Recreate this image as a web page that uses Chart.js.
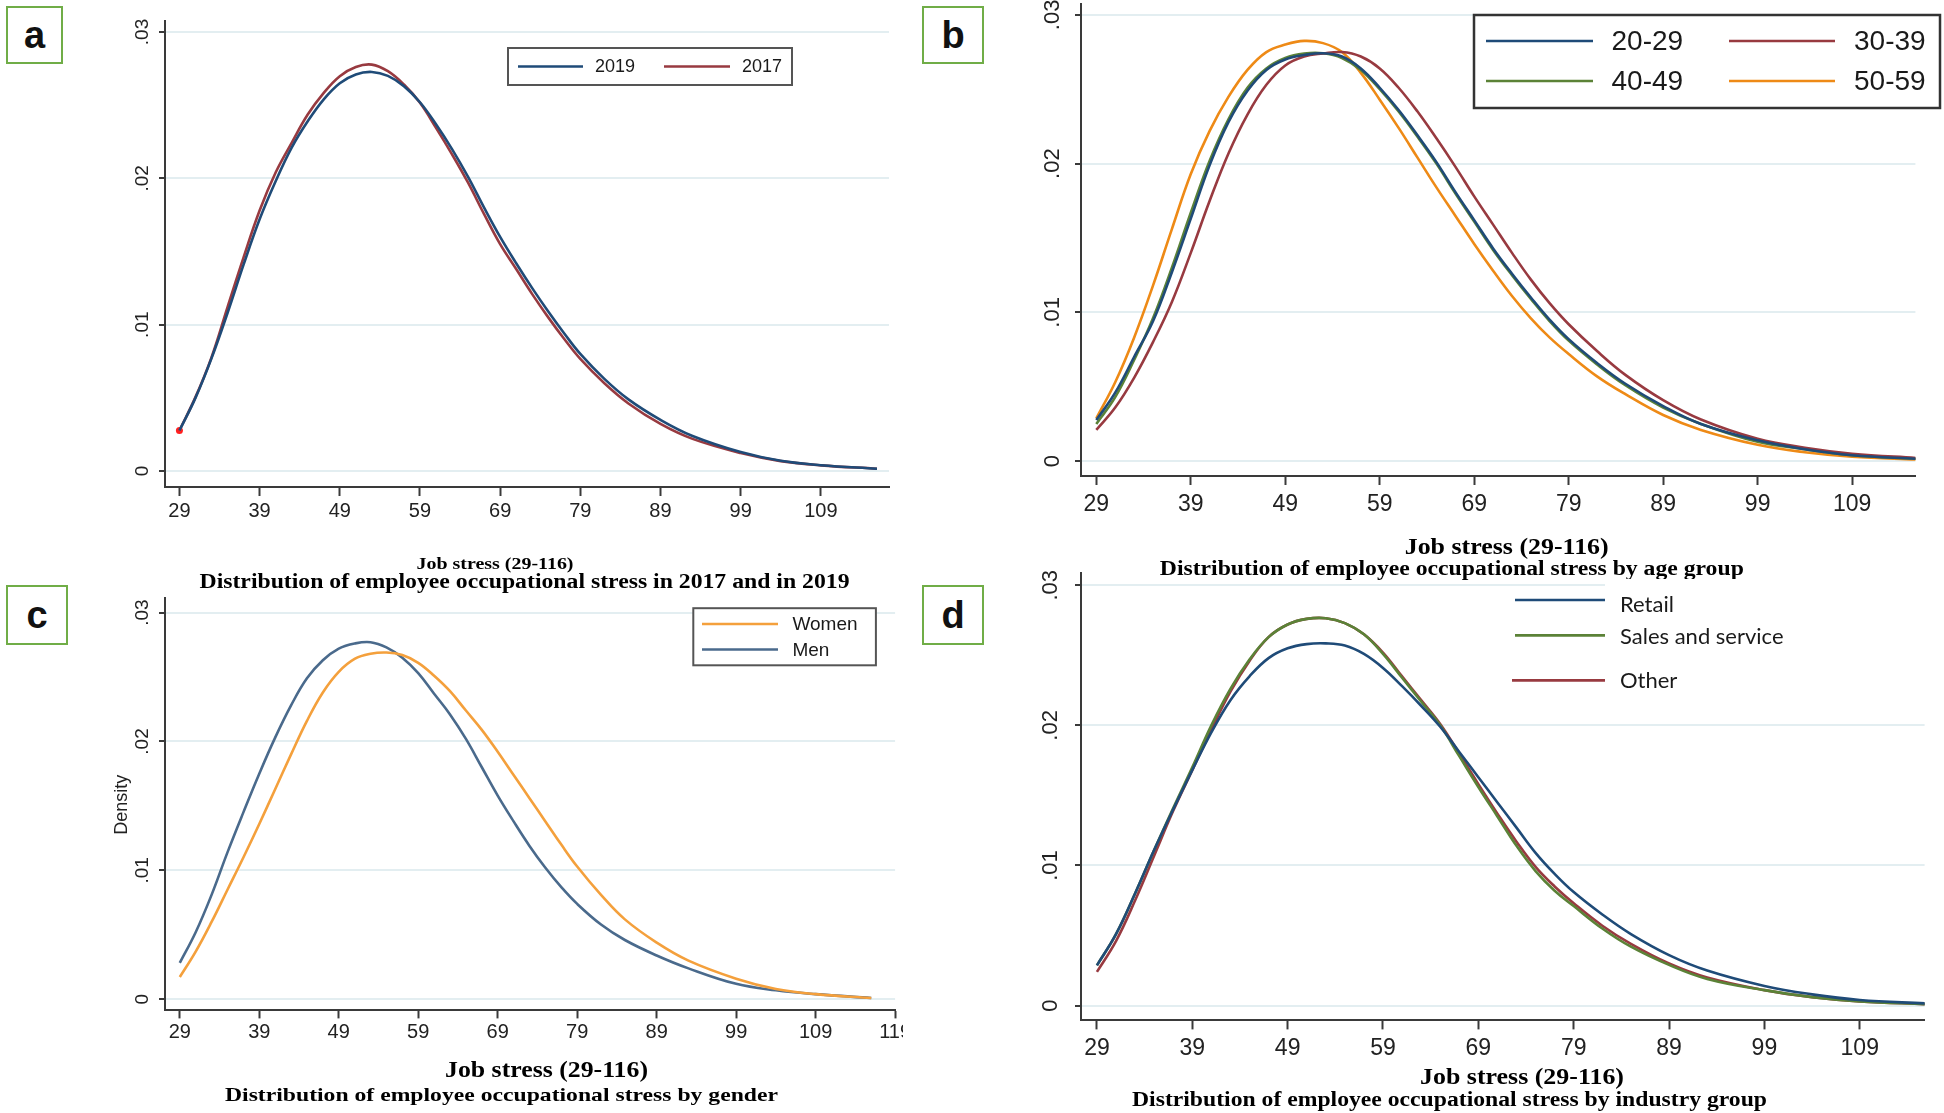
<!DOCTYPE html>
<html>
<head>
<meta charset="utf-8">
<title>Job stress density plots</title>
<script src="https://cdn.jsdelivr.net/npm/chart.js@4.4.0/dist/chart.umd.min.js"></script>
<style>
  html, body { margin: 0; padding: 0; background: #fff; }
  #page { position: relative; width: 1944px; height: 1113px; overflow: hidden; background: #fff; }
  .wrap { position: absolute; overflow: hidden; }
  .tag {
    position: absolute; box-sizing: border-box; border: 2px solid #70ad47; background: #fff;
    font: bold 38px "Liberation Sans", Arial, sans-serif; color: #111;
    display: flex; align-items: center; justify-content: center; line-height: 1;
  }
</style>
</head>
<body>
<div id="page">
  <div class="wrap" style="left:70px;top:0;width:840px;height:600px"><canvas id="chartA" width="840" height="600"></canvas></div>
  <div class="wrap" style="left:990px;top:0;width:954px;height:600px"><canvas id="chartB" width="954" height="600"></canvas></div>
  <div class="wrap" style="left:70px;top:590px;width:833px;height:523px"><canvas id="chartC" width="870" height="523"></canvas></div>
  <div class="wrap" style="left:990px;top:565px;width:954px;height:548px"><canvas id="chartD" width="954" height="548"></canvas></div>
  <div class="tag" style="left:6px;top:6px;width:57px;height:58px">a</div>
  <div class="tag" style="left:922px;top:6px;width:62px;height:58px">b</div>
  <div class="tag" style="left:6px;top:585px;width:62px;height:60px">c</div>
  <div class="tag" style="left:922px;top:585px;width:62px;height:60px">d</div>
</div>
<script>
// Job stress score (x) at which the density curves were read
const stressX = [29, 31, 33, 35, 37, 39, 41, 43, 45, 47, 49, 51, 53, 55, 57, 59, 61, 63, 65, 67,
                 69, 71, 73, 75, 77, 79, 82, 85, 89, 93, 99, 104, 109, 116];

// a) by year
const year2019 = [.00277, .0050, .0077, .0108, .0141, .0172, .0198, .0221, .0239, .0254, .0265, .0271, .02727, .0270, .0263, .0252, .0237,
                  .0220, .0201, .0180, .0160, .0142, .0125, .0109, .0094, .0080, .0063, .0049, .0035, .0024, .0013, .0007, .0004, .00016];
const year2017 = [.00277, .00505, .00777, .0112, .0146, .0178, .0204, .02243, .02436, .02584, .02698, .02761, .02777, .02732, .02641, .02516, .02345,
                  .02164, .0197, .01755, .0155, .0138, .01209, .0105, .00902, .00766, .00600, .00462, .00322, .0022, .00123, .00068, .00039, .00016];

// b) by age group
const age2029 = [.00276, .0046, .0070, .0094, .0127, .0163, .0199, .0228, .0249, .0263, .0270, .0273, .02742, .0272, .0264, .0251, .0236,
                 .0219, .0201, .0181, .0162, .0143, .0126, .0110, .0095, .0082, .0066, .0052, .0037, .0025, .0014, .0008, .0004, .00015];
const age3039 = [.0021, .0036, .0056, .0080, .0107, .0140, .0175, .0207, .0233, .0253, .0266, .0272, .0274, .0275, .0272, .0264, .0251,
                 .0235, .0217, .0198, .0178, .0159, .0140, .0122, .0106, .0092, .0074, .0058, .0041, .0028, .0015, .0009, .0005, .0002];
const age4049 = [.0025, .0043, .0068, .0096, .0130, .0167, .0202, .0230, .0251, .0264, .0271, .0274, .02742, .0271, .0263, .0250, .0235,
                 .0218, .0200, .0180, .0161, .0142, .0125, .0109, .0094, .0081, .0065, .0051, .0036, .0025, .0013, .0008, .0004, .00015];
const age5059 = [.00287, .0053, .0083, .0118, .0156, .0193, .0222, .0245, .0263, .0275, .0280, .02825, .0281, .0275, .0261, .0243, .0224,
                 .0204, .0184, .0165, .0146, .0128, .0111, .0096, .0083, .0072, .0057, .0045, .0031, .0021, .0011, .0006, .0003, .0001];

// c) by gender
const women = [.00173, .0037, .0060, .0085, .0110, .0136, .0163, .0190, .0216, .0238, .0254, .0264, .0268, .0269, .0267, .0261, .0251,
               .0239, .0224, .0209, .0192, .0174, .0156, .0138, .0120, .0103, .0081, .0062, .0044, .0030, .0016, .0008, .0004, .0001];
const men = [.00282, .0052, .0081, .0114, .0145, .0175, .0203, .0228, .0249, .0263, .0272, .0276, .0277, .0273, .0265, .0253, .0237,
             .0221, .0202, .0180, .0158, .0138, .0119, .0102, .0087, .0074, .0058, .0046, .0034, .0024, .0012, .0007, .0004, .0001];

// d) by industry group
const retail = [.00287, .0051, .0080, .0111, .0140, .0168, .0195, .0218, .0235, .0248, .0255, .0258, .02585, .0257, .0251, .0241, .0228,
                .0214, .0199, .0181, .0163, .0145, .0127, .0109, .0094, .0081, .0065, .0051, .0036, .0025, .0014, .0008, .0004, .00015];
const salesService = [.00287, .0051, .0080, .0111, .0141, .0170, .0200, .0226, .0247, .0263, .0272, .0276, .02765, .0273, .0265, .0251, .0234,
                      .0217, .0200, .0178, .0156, .0135, .0114, .0096, .0082, .0071, .0055, .0042, .0029, .0019, .0011, .0006, .0003, .0001];
const other = [.0024, .0046, .0075, .0107, .0139, .0168, .0197, .0224, .0246, .0263, .0272, .0276, .02765, .0273, .0265, .0252, .0235,
               .0218, .0201, .0180, .0158, .0137, .0117, .0099, .0085, .0073, .0057, .0044, .0030, .0020, .0011, .0006, .0003, .0001];

// tick labels
const xTicks = [29, 39, 49, 59, 69, 79, 89, 99, 109];
const xTicksC = [29, 39, 49, 59, 69, 79, 89, 99, 109, 119];
const yTicks = [0, 0.01, 0.02, 0.03];
const yTickLabels = ['0', '.01', '.02', '.03'];

const xTitle = 'Job stress (29-116)';

const NAVY = '#1f4b78', MAROON = '#983a40', GREEN = '#5b8237', ORANGE = '#ee8a16';
const SANS = '"Liberation Sans", Arial, sans-serif';
const SERIF = '"Liberation Serif", "Times New Roman", serif';

function series(label, values, color, extra) {
  return Object.assign({
    label,
    data: stressX.map((x, i) => ({ x, y: values[i] })),
    borderColor: color,
    backgroundColor: color,
    borderWidth: 2.6,
    pointRadius: 0,
    fill: false,
    tension: 0.4
  }, extra || {});
}

function drawFitted(ctx, text, cx, cy, font, width) {
  ctx.save();
  ctx.font = font;
  const w = ctx.measureText(text).width;
  ctx.translate(cx, cy);
  ctx.scale(width / w, 1);
  ctx.textAlign = 'center';
  ctx.textBaseline = 'middle';
  ctx.fillStyle = '#000';
  ctx.fillText(text, 0, 0);
  ctx.restore();
}

// draws the stata-like extras: rotated y labels, legend, axis title and caption
const panelText = {
  id: 'panelText',
  afterDraw(chart, args, o) {
    const ctx = chart.ctx;
    const ys = chart.scales.y;

    ctx.save();
    ctx.fillStyle = '#222';
    ctx.font = o.yFont + 'px ' + SANS;
    ctx.textAlign = 'center';
    ctx.textBaseline = 'middle';
    yTicks.forEach((v, i) => {
      ctx.save();
      ctx.translate(o.yLabelX, ys.getPixelForValue(v));
      ctx.rotate(-Math.PI / 2);
      ctx.fillText(yTickLabels[i], 0, 0);
      ctx.restore();
    });
    if (o.density) {
      ctx.save();
      ctx.font = o.density.size + 'px ' + SANS;
      ctx.translate(o.density.x, o.density.y);
      ctx.rotate(-Math.PI / 2);
      ctx.fillText('Density', 0, 0);
      ctx.restore();
    }
    ctx.restore();

    const lg = o.legend;
    ctx.save();
    ctx.fillStyle = '#fff';
    ctx.fillRect(lg.box.x, lg.box.y, lg.box.w, lg.box.h);
    if (lg.border) {
      ctx.strokeStyle = lg.border;
      ctx.lineWidth = lg.borderWidth;
      ctx.strokeRect(lg.box.x, lg.box.y, lg.box.w, lg.box.h);
    }
    lg.items.forEach(it => {
      const ds = chart.data.datasets[it.ds];
      ctx.strokeStyle = ds.borderColor;
      ctx.lineWidth = 2.6;
      ctx.beginPath();
      ctx.moveTo(it.x1, it.y);
      ctx.lineTo(it.x2, it.y);
      ctx.stroke();
      ctx.fillStyle = '#1a1a1a';
      ctx.font = lg.font;
      ctx.textAlign = 'left';
      ctx.textBaseline = 'middle';
      ctx.fillText(ds.label, it.lx, it.ly !== undefined ? it.ly : it.y + 1);
    });
    ctx.restore();

    drawFitted(ctx, xTitle, o.title.cx, o.title.cy, 'bold ' + o.title.size + 'px ' + SERIF, o.title.w);
    drawFitted(ctx, o.caption.text, o.caption.cx, o.caption.cy, 'bold ' + o.caption.size + 'px ' + SERIF, o.caption.w);
  }
};

function makePanel(id, p) {
  return new Chart(document.getElementById(id), {
    type: 'line',
    data: { datasets: p.datasets },
    options: {
      responsive: false,
      animation: false,
      events: [],
      layout: { padding: { left: 0, top: p.padTop, right: p.padRight, bottom: 0 } },
      plugins: {
        legend: { display: false },
        tooltip: { enabled: false },
        title: { display: false },
        panelText: p.text
      },
      scales: {
        x: {
          type: 'linear',
          min: p.xMin, max: p.xMax,
          afterBuildTicks: s => { s.ticks = p.xTicks.map(v => ({ value: v })); },
          afterFit: s => { s.height = p.xHeight; },
          border: { color: '#3a3a3a', width: 2 },
          grid: { drawOnChartArea: false, drawTicks: true, tickLength: p.tickLength, tickColor: '#3a3a3a', tickWidth: 2 },
          ticks: {
            autoSkip: false, maxRotation: 0, minRotation: 0,
            padding: p.tickPadding,
            color: '#222',
            font: { family: SANS, size: p.tickSize },
            callback: v => String(v)
          }
        },
        y: {
          type: 'linear',
          min: p.yMin, max: p.yMax,
          afterBuildTicks: s => { s.ticks = yTicks.map(v => ({ value: v })); },
          afterFit: s => { s.width = p.yWidth; },
          border: { color: '#3a3a3a', width: 2 },
          grid: { color: '#e3eef1', lineWidth: 2, drawTicks: true, tickLength: 6, tickColor: '#3a3a3a', tickWidth: 2 },
          ticks: { display: false }
        }
      }
    },
    plugins: [panelText]
  });
}

// a
makePanel('chartA', {
  datasets: [
    series('2019', year2019, NAVY),
    series('2017', year2017, MAROON, {
      pointRadius: c => c.dataIndex === 0 ? 3.5 : 0,
      pointBackgroundColor: '#ff2020', pointBorderWidth: 0
    })
  ],
  xMin: 27.2, xMax: 117.5, yMin: -0.00109, yMax: 0.03075, xTicks,
  padTop: 21, padRight: 21, yWidth: 95, xHeight: 113,
  tickLength: 9, tickPadding: 3, tickSize: 20,
  text: {
    yLabelX: 73, yFont: 19,
    legend: {
      box: { x: 438, y: 48, w: 284, h: 37 }, border: '#555', borderWidth: 2,
      font: '18px ' + SANS,
      items: [
        { ds: 0, x1: 448, x2: 513, y: 66.5, lx: 525 },
        { ds: 1, x1: 594, x2: 660, y: 66.5, lx: 672 }
      ]
    },
    title: { cx: 425, cy: 565, size: 17, w: 157 },
    caption: { text: 'Distribution of employee occupational stress in 2017 and in 2019', cx: 454.5, cy: 583, size: 20, w: 650 }
  }
});

// b
makePanel('chartB', {
  datasets: [
    series('20-29', age2029, NAVY),
    series('30-39', age3039, MAROON),
    series('40-49', age4049, GREEN),
    series('50-59', age5059, ORANGE)
  ],
  xMin: 27.38, xMax: 115.7, yMin: -0.001, yMax: 0.03073, xTicks,
  padTop: 4, padRight: 28.6, yWidth: 91, xHeight: 124,
  tickLength: 9, tickPadding: 6, tickSize: 23,
  text: {
    yLabelX: 62.6, yFont: 22,
    legend: {
      box: { x: 484, y: 15, w: 466, h: 93 }, border: '#333', borderWidth: 2.5,
      font: '28px ' + SANS,
      items: [
        { ds: 0, x1: 496, x2: 603, y: 41, lx: 621.5 },
        { ds: 1, x1: 739, x2: 845, y: 41, lx: 864 },
        { ds: 2, x1: 496, x2: 603, y: 81, lx: 621.5 },
        { ds: 3, x1: 739, x2: 845, y: 81, lx: 864 }
      ]
    },
    title: { cx: 516.7, cy: 548, size: 23, w: 204 },
    caption: { text: 'Distribution of employee occupational stress by age group', cx: 461.8, cy: 570, size: 20, w: 584 }
  }
});

// c
makePanel('chartC', {
  datasets: [
    series('Women', women, '#f4a03c'),
    series('Men', men, '#4a6a8c')
  ],
  xMin: 27.14, xMax: 119, yMin: -0.00086, yMax: 0.03116, xTicks: xTicksC,
  padTop: 7.6, padRight: 44.9, yWidth: 95, xHeight: 102.6,
  tickLength: 8, tickPadding: 2, tickSize: 20,
  text: {
    yLabelX: 72.6, yFont: 19,
    density: { x: 52, y: 214.7, size: 18 },
    legend: {
      box: { x: 623.3, y: 18.2, w: 182.6, h: 57.1 }, border: '#555', borderWidth: 2,
      font: '19px ' + SANS,
      items: [
        { ds: 0, x1: 632, x2: 708, y: 34, lx: 722.4 },
        { ds: 1, x1: 632, x2: 708, y: 59.5, lx: 722.4 }
      ]
    },
    title: { cx: 476.5, cy: 481, size: 23, w: 203 },
    caption: { text: 'Distribution of employee occupational stress by gender', cx: 431.5, cy: 506, size: 19, w: 553 }
  }
});

// d
makePanel('chartD', {
  datasets: [
    series('Retail', retail, NAVY),
    series('Sales and service', salesService, GREEN),
    series('Other', other, MAROON)
  ],
  xMin: 27.33, xMax: 115.8, yMin: -0.00106, yMax: 0.03089, xTicks,
  padTop: 7.8, padRight: 19.4, yWidth: 91, xHeight: 92.6,
  tickLength: 9, tickPadding: 5, tickSize: 23,
  text: {
    yLabelX: 61.4, yFont: 22,
    legend: {
      box: { x: 615, y: 14, w: 339, h: 120 }, border: null,
      font: '22px Lato, "Liberation Sans", sans-serif',
      items: [
        { ds: 0, x1: 525, x2: 615, y: 35, lx: 630, ly: 40 },
        { ds: 1, x1: 525, x2: 615, y: 70.4, lx: 630, ly: 72 },
        { ds: 2, x1: 522, x2: 615, y: 115.4, lx: 630, ly: 116 }
      ]
    },
    title: { cx: 532, cy: 513, size: 23, w: 204 },
    caption: { text: 'Distribution of employee occupational stress by industry group', cx: 459.5, cy: 536, size: 20, w: 635 }
  }
});
</script>
</body>
</html>
